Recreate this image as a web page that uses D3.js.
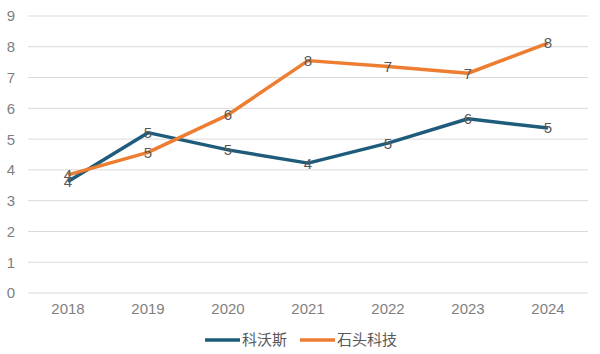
<!DOCTYPE html>
<html>
<head>
<meta charset="utf-8">
<script src="https://cdn.jsdelivr.net/npm/d3@7"></script>
<style>
  body { margin: 0; background: #fff; }
  text { font-family: "Noto Sans CJK SC", "Liberation Sans", sans-serif; }
</style>
</head>
<body>
<svg width="600" height="354"></svg>
<script>
var years = ["2018", "2019", "2020", "2021", "2022", "2023", "2024"];
var ecovacs = [3.62, 5.21, 4.65, 4.22, 4.87, 5.66, 5.36];
var roborock = [3.84, 4.57, 5.79, 7.55, 7.36, 7.14, 8.12];
var yTicks = [0, 1, 2, 3, 4, 5, 6, 7, 8, 9];
var seriesNames = ["科沃斯", "石头科技"];
var colors = ["#1f5c7c", "#ed7d31"];

var svg = d3.select("svg"),
  margin = { top: 16, right: 12, bottom: 61, left: 28 },
  width = +svg.attr("width") - margin.left - margin.right,
  height = +svg.attr("height") - margin.top - margin.bottom,
  g = svg.append("g")
    .attr("transform", "translate(" + margin.left + "," + margin.top + ")");

var x = d3.scalePoint().domain(years).range([0, width]).padding(0.5);
var y = d3.scaleLinear().domain([0, 9]).range([height, 0]);

// gridlines
g.selectAll(".grid")
  .data(yTicks)
  .enter()
  .append("line")
  .attr("x1", 0)
  .attr("x2", width)
  .attr("y1", function(d) { return y(d); })
  .attr("y2", function(d) { return y(d); })
  .attr("stroke", "#d9d9d9")
  .attr("stroke-width", 1);

// y labels
g.selectAll(".ylab")
  .data(yTicks)
  .enter()
  .append("text")
  .attr("x", -17)
  .attr("y", function(d) { return y(d); })
  .attr("dy", "0.36em")
  .attr("text-anchor", "middle")
  .attr("fill", "#7f7f7f")
  .style("font-size", "15px")
  .style("font-family", "Liberation Sans, sans-serif")
  .text(function(d) { return d; });

// x labels
g.selectAll(".xlab")
  .data(years)
  .enter()
  .append("text")
  .attr("x", function(d) { return x(d); })
  .attr("y", height + 21)
  .attr("text-anchor", "middle")
  .attr("fill", "#7f7f7f")
  .style("font-size", "15px")
  .style("font-family", "Liberation Sans, sans-serif")
  .text(function(d) { return d; });

var series = [ecovacs, roborock];
var line = d3.line()
  .x(function(d, i) { return x(years[i]); })
  .y(function(d) { return y(d); });

series.forEach(function(vals, s) {
  g.append("path")
    .datum(vals)
    .attr("fill", "none")
    .attr("stroke", colors[s])
    .attr("stroke-width", 3.5)
    .attr("stroke-linejoin", "round")
    .attr("d", line);
});

series.forEach(function(vals, s) {
  g.selectAll(".lab" + s)
    .data(vals)
    .enter()
    .append("text")
    .attr("x", function(d, i) { return x(years[i]); })
    .attr("y", function(d) { return y(d); })
    .attr("dy", "0.36em")
    .attr("text-anchor", "middle")
    .attr("fill", "#595959")
    .style("font-size", "15px")
    .style("font-family", "Liberation Sans, sans-serif")
    .text(function(d) { return Math.round(d); });
});

// legend
var legend = svg.append("g").attr("transform", "translate(205,340)");
var lx = [0, 95];
seriesNames.forEach(function(name, s) {
  legend.append("line")
    .attr("x1", lx[s])
    .attr("x2", lx[s] + 35)
    .attr("y1", 0)
    .attr("y2", 0)
    .attr("stroke", colors[s])
    .attr("stroke-width", 3.5);
  legend.append("text")
    .attr("x", lx[s] + 37)
    .attr("y", 0)
    .attr("dy", "0.36em")
    .attr("fill", "#595959")
    .style("font-size", "15px")
    .text(name);
});
</script>
</body>
</html>
